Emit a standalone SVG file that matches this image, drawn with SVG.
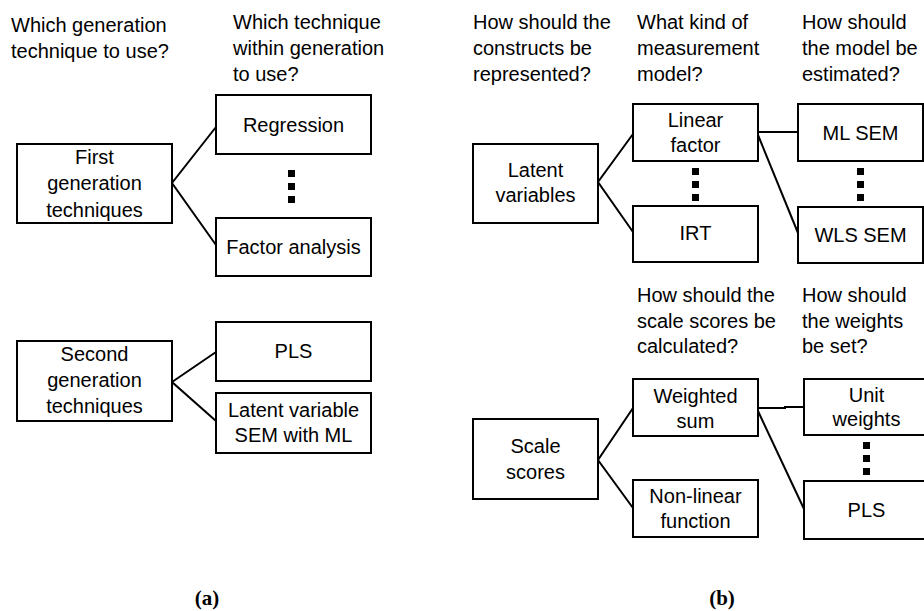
<svg xmlns="http://www.w3.org/2000/svg" width="924" height="611" viewBox="0 0 924 611">
<style>
.box{fill:#fff;stroke:#000;stroke-width:2}
.t{font-family:"Liberation Sans",Arial,sans-serif;font-size:20px;fill:#000}
.c{text-anchor:middle}
.ln{stroke:#000;stroke-width:2;fill:none}
.dot{fill:#000}
.cap{font-family:"Liberation Serif","Times New Roman",serif;font-size:21px;font-weight:bold;text-anchor:middle}
</style>
<rect width="924" height="611" fill="#fff"/>
<g id="questions">
<text class="t" x="11" y="32">Which generation</text>
<text class="t" x="11" y="58">technique to use?</text>
<text class="t" x="233" y="29">Which technique</text>
<text class="t" x="233" y="55">within generation</text>
<text class="t" x="233" y="81">to use?</text>
<text class="t" x="473" y="29">How should the</text>
<text class="t" x="473" y="55">constructs be</text>
<text class="t" x="473" y="81">represented?</text>
<text class="t" x="637" y="29">What kind of</text>
<text class="t" x="637" y="55">measurement</text>
<text class="t" x="637" y="81">model?</text>
<text class="t" x="802" y="29">How should</text>
<text class="t" x="802" y="55">the model be</text>
<text class="t" x="802" y="81">estimated?</text>
<text class="t" x="637" y="302">How should the</text>
<text class="t" x="637" y="328">scale scores be</text>
<text class="t" x="637" y="353">calculated?</text>
<text class="t" x="802" y="302">How should</text>
<text class="t" x="802" y="328">the weights</text>
<text class="t" x="802" y="353">be set?</text>
</g>
<g id="connectors">
<polyline class="ln" points="216,127 172,183 216,245"/>
<polyline class="ln" points="216,352 172,382 216,421"/>
<polyline class="ln" points="633,134 598,182 633,232"/>
<line class="ln" x1="758" y1="132" x2="798" y2="132"/>
<line class="ln" x1="758" y1="135" x2="798" y2="233"/>
<polyline class="ln" points="633,408 598,460 633,508"/>
<polyline class="ln" points="758,408 785,408 785,407 804,407"/>
<line class="ln" x1="758" y1="411" x2="804" y2="509"/>
</g>
<g id="dots">
<rect class="dot" x="288" y="170" width="7" height="7"/>
<rect class="dot" x="288" y="183" width="7" height="7"/>
<rect class="dot" x="288" y="196" width="7" height="7"/>
<rect class="dot" x="692" y="168" width="7" height="7"/>
<rect class="dot" x="692" y="181" width="7" height="7"/>
<rect class="dot" x="692" y="194" width="7" height="7"/>
<rect class="dot" x="857" y="168" width="7" height="7"/>
<rect class="dot" x="857" y="181" width="7" height="7"/>
<rect class="dot" x="857" y="194" width="7" height="7"/>
<rect class="dot" x="863" y="442" width="7" height="7"/>
<rect class="dot" x="863" y="455" width="7" height="7"/>
<rect class="dot" x="863" y="468" width="7" height="7"/>
</g>
<g id="first-gen"><rect class="box" x="17" y="144" width="155" height="79"/>
<text class="t c" x="94.5" y="164">First</text><text class="t c" x="94.5" y="190">generation</text><text class="t c" x="94.5" y="217">techniques</text></g>
<g id="regression"><rect class="box" x="216" y="95" width="155" height="59"/>
<text class="t c" x="293.5" y="132">Regression</text></g>
<g id="factor-analysis"><rect class="box" x="216" y="218" width="155" height="58"/>
<text class="t c" x="293.5" y="254">Factor analysis</text></g>
<g id="second-gen"><rect class="box" x="17" y="341" width="155" height="80"/>
<text class="t c" x="94.5" y="361">Second</text><text class="t c" x="94.5" y="387">generation</text><text class="t c" x="94.5" y="413">techniques</text></g>
<g id="pls-a"><rect class="box" x="216" y="322" width="155" height="59"/>
<text class="t c" x="293.5" y="358">PLS</text></g>
<g id="latent-sem"><rect class="box" x="216" y="393" width="155" height="60"/>
<text class="t c" x="293.5" y="417">Latent variable</text><text class="t c" x="293.5" y="442">SEM with ML</text></g>
<g id="latent-variables"><rect class="box" x="473" y="144" width="125" height="79"/>
<text class="t c" x="535.5" y="177">Latent</text><text class="t c" x="535.5" y="202">variables</text></g>
<g id="linear-factor"><rect class="box" x="633" y="104" width="125" height="57"/>
<text class="t c" x="695.5" y="127">Linear</text><text class="t c" x="695.5" y="152">factor</text></g>
<g id="irt"><rect class="box" x="633" y="206" width="125" height="56"/>
<text class="t c" x="695.5" y="240">IRT</text></g>
<g id="ml-sem"><rect class="box" x="798" y="104" width="125" height="57"/>
<text class="t c" x="860.5" y="140">ML SEM</text></g>
<g id="wls-sem"><rect class="box" x="798" y="207" width="125" height="56"/>
<text class="t c" x="860.5" y="242">WLS SEM</text></g>
<g id="scale-scores"><rect class="box" x="473" y="419" width="125" height="80"/>
<text class="t c" x="535.5" y="453">Scale</text><text class="t c" x="535.5" y="479">scores</text></g>
<g id="weighted-sum"><rect class="box" x="633" y="379" width="125" height="57"/>
<text class="t c" x="695.5" y="403">Weighted</text><text class="t c" x="695.5" y="428">sum</text></g>
<g id="non-linear"><rect class="box" x="633" y="480" width="125" height="57"/>
<text class="t c" x="695.5" y="503">Non-linear</text><text class="t c" x="695.5" y="528">function</text></g>
<g id="unit-weights"><rect class="box" x="804" y="379" width="125" height="56"/>
<text class="t c" x="866.5" y="402">Unit</text><text class="t c" x="866.5" y="426">weights</text></g>
<g id="pls-b"><rect class="box" x="804" y="481" width="125" height="58"/>
<text class="t c" x="866.5" y="517">PLS</text></g>
<g id="captions">
<text class="cap" x="207" y="605">(a)</text>
<text class="cap" x="722" y="605">(b)</text>
</g>
</svg>
